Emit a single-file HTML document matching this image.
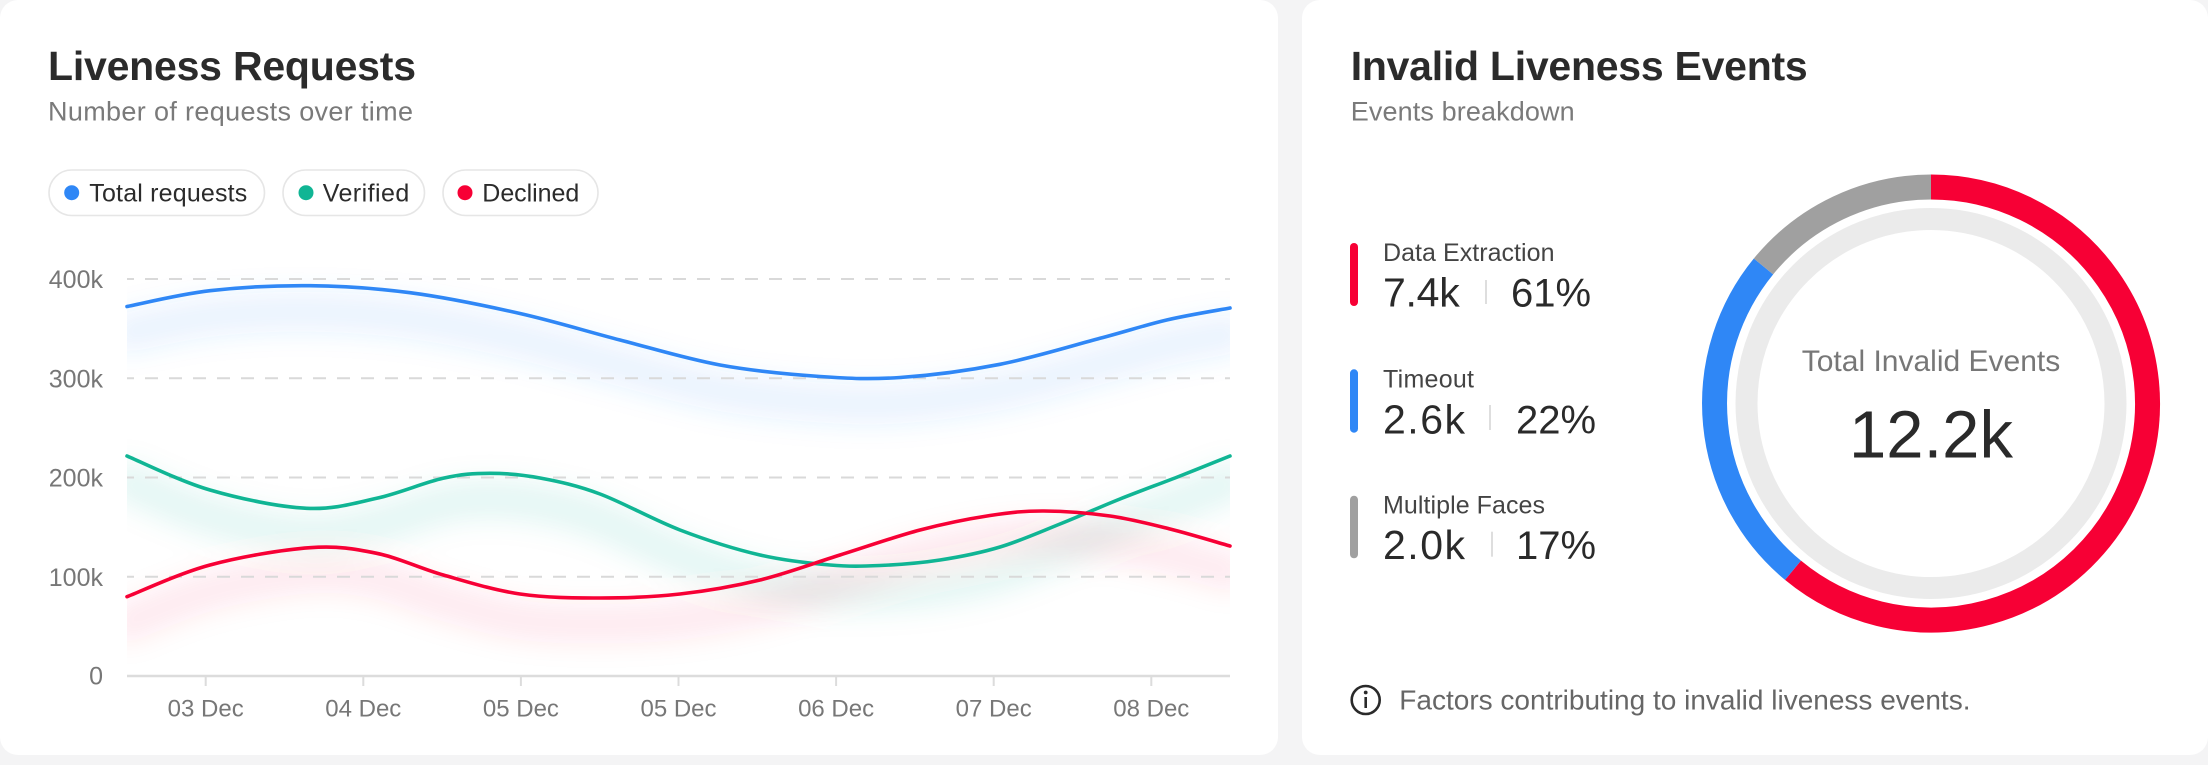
<!DOCTYPE html>
<html>
<head>
<meta charset="utf-8">
<style>
  html,body{margin:0;padding:0;background:#f4f4f5;}
  body{width:2208px;height:765px;overflow:hidden;}
  svg{display:block;font-family:"Liberation Sans", Arial, sans-serif;}
</style>
</head>
<body>
<svg width="2208" height="765" viewBox="0 0 2208 765" xmlns="http://www.w3.org/2000/svg">
  <defs>
    <clipPath id="plot"><rect x="127" y="250" width="1103" height="426"/></clipPath>
    <filter id="glow" x="-10%" y="-50%" width="120%" height="200%">
      <feGaussianBlur stdDeviation="13"/>
    </filter>
  </defs>

  <rect x="0" y="0" width="2208" height="765" fill="#f4f4f5"/>
  <!-- cards -->
  <rect x="0" y="0" width="1278" height="755" rx="18" fill="#ffffff"/>
  <rect x="1302" y="0" width="906" height="755" rx="18" fill="#ffffff"/>

  <!-- LEFT CARD header -->
  <text x="48" y="80" font-size="41" font-weight="bold" fill="#2b2b2b" textLength="368">Liveness Requests</text>
  <text x="48" y="120.5" font-size="27" fill="#7a7a7a" textLength="365">Number of requests over time</text>

  <!-- legend pills -->
  <rect x="49" y="170" width="215.5" height="45.5" rx="22.75" fill="#fff" stroke="#e6e6e6" stroke-width="1.6"/>
  <circle cx="71.7" cy="192.7" r="7.5" fill="#2f87f6"/>
  <text x="89.3" y="201.7" font-size="25" fill="#2b2b2b" textLength="158">Total requests</text>

  <rect x="283" y="170" width="141.5" height="45.5" rx="22.75" fill="#fff" stroke="#e6e6e6" stroke-width="1.6"/>
  <circle cx="306" cy="192.7" r="7.5" fill="#10b594"/>
  <text x="322.7" y="201.7" font-size="25" fill="#2b2b2b" textLength="86.6">Verified</text>

  <rect x="443" y="170" width="155" height="45.5" rx="22.75" fill="#fff" stroke="#e6e6e6" stroke-width="1.6"/>
  <circle cx="465" cy="192.7" r="7.5" fill="#f70035"/>
  <text x="482.3" y="201.7" font-size="25" fill="#2b2b2b" textLength="97">Declined</text>

  <!-- glows -->
  <g clip-path="url(#plot)">
    <g filter="url(#glow)" transform="translate(0,26)" fill="none" stroke-linecap="round">
      <path stroke="#2f87f6" stroke-opacity="0.10" stroke-width="40" d="M127,306.5 C140.8,303.9 179.5,294.2 210,290.7 S276.7,285.4 310,285.7 S375,288.1 410,292.7 S485,305.6 520,313.5 S586.7,331.4 620,340 S686.7,358.9 720,365 S790,374.4 820,376.5 S870,379.5 900,377.5 S966.7,370.8 1000,364.3 S1072.2,345.7 1100,338.3 S1145,325.1 1166.7,320 S1219.5,310 1230,308"/>
      <path stroke="#10b594" stroke-opacity="0.10" stroke-width="40" d="M127,456 C140.8,461.7 180.1,481.3 210,490 S278.9,507 306.7,508.3 S354,503.3 376.7,498.3 S424.1,482.5 443,478.3 S473.8,473.3 490,473.3 S521.7,474.6 540,478 S576.7,485.3 600,494 S653.3,519.8 680,530 S735,549.2 760,555 S810,563.3 830,565 S861.7,566.3 880,565.5 S920,563.1 940,560 S980,553 1000,547 S1040,532 1060,524 S1100,507 1120,499 S1161.7,483.2 1180,476 S1221.7,459.3 1230,456"/>
      <path stroke="#f70035" stroke-opacity="0.08" stroke-width="40" d="M127,596.7 C140.8,591.4 179.5,573.2 210,565 S282.2,549.7 310,547.7 S354.5,548.8 376.7,553.3 S419.4,568.2 443.3,575 S493.9,590.2 520,594 S573.3,598 600,598 S653.3,597 680,594 S733.3,586.5 760,580 S813.3,563.3 840,555 S895,536.6 920,530 S969.3,518.7 990,515.5 S1024,510.9 1044,511 S1089,513 1110,516 S1150,524 1170,529 S1220,543.2 1230,546"/>
    </g>
  </g>

  <!-- gridlines -->
  <g stroke="#d9d9d9" stroke-width="2" stroke-dasharray="13 11" stroke-dashoffset="6">
    <line x1="127" y1="279" x2="1230" y2="279"/>
    <line x1="127" y1="378.25" x2="1230" y2="378.25"/>
    <line x1="127" y1="477.5" x2="1230" y2="477.5"/>
    <line x1="127" y1="576.75" x2="1230" y2="576.75"/>
  </g>
  <!-- axis -->
  <line x1="127" y1="676" x2="1230" y2="676" stroke="#dcdcdc" stroke-width="2.5"/>
  <g stroke="#dcdcdc" stroke-width="2">
    <line x1="205.7" y1="676" x2="205.7" y2="686"/>
    <line x1="363.3" y1="676" x2="363.3" y2="686"/>
    <line x1="520.9" y1="676" x2="520.9" y2="686"/>
    <line x1="678.5" y1="676" x2="678.5" y2="686"/>
    <line x1="836.1" y1="676" x2="836.1" y2="686"/>
    <line x1="993.7" y1="676" x2="993.7" y2="686"/>
    <line x1="1151.3" y1="676" x2="1151.3" y2="686"/>
  </g>

  <!-- y labels -->
  <g font-size="25" fill="#777" text-anchor="end">
    <text x="103" y="288">400k</text>
    <text x="103" y="387.25">300k</text>
    <text x="103" y="486.5">200k</text>
    <text x="103" y="585.75">100k</text>
    <text x="103" y="684.5">0</text>
  </g>
  <!-- x labels -->
  <g font-size="24" fill="#777" text-anchor="middle">
    <text x="205.7" y="716.7">03 Dec</text>
    <text x="363.3" y="716.7">04 Dec</text>
    <text x="520.9" y="716.7">05 Dec</text>
    <text x="678.5" y="716.7">05 Dec</text>
    <text x="836.1" y="716.7">06 Dec</text>
    <text x="993.7" y="716.7">07 Dec</text>
    <text x="1151.3" y="716.7">08 Dec</text>
  </g>

  <!-- series lines -->
  <g fill="none" stroke-width="3.6" stroke-linecap="round" stroke-linejoin="round">
    <path stroke="#2f87f6" d="M127,306.5 C140.8,303.9 179.5,294.2 210,290.7 S276.7,285.4 310,285.7 S375,288.1 410,292.7 S485,305.6 520,313.5 S586.7,331.4 620,340 S686.7,358.9 720,365 S790,374.4 820,376.5 S870,379.5 900,377.5 S966.7,370.8 1000,364.3 S1072.2,345.7 1100,338.3 S1145,325.1 1166.7,320 S1219.5,310 1230,308"/>
    <path stroke="#10b594" d="M127,456 C140.8,461.7 180.1,481.3 210,490 S278.9,507 306.7,508.3 S354,503.3 376.7,498.3 S424.1,482.5 443,478.3 S473.8,473.3 490,473.3 S521.7,474.6 540,478 S576.7,485.3 600,494 S653.3,519.8 680,530 S735,549.2 760,555 S810,563.3 830,565 S861.7,566.3 880,565.5 S920,563.1 940,560 S980,553 1000,547 S1040,532 1060,524 S1100,507 1120,499 S1161.7,483.2 1180,476 S1221.7,459.3 1230,456"/>
    <path stroke="#f70035" d="M127,596.7 C140.8,591.4 179.5,573.2 210,565 S282.2,549.7 310,547.7 S354.5,548.8 376.7,553.3 S419.4,568.2 443.3,575 S493.9,590.2 520,594 S573.3,598 600,598 S653.3,597 680,594 S733.3,586.5 760,580 S813.3,563.3 840,555 S895,536.6 920,530 S969.3,518.7 990,515.5 S1024,510.9 1044,511 S1089,513 1110,516 S1150,524 1170,529 S1220,543.2 1230,546"/>
  </g>

  <!-- RIGHT CARD -->
  <text x="1350.7" y="80" font-size="41" font-weight="bold" fill="#2b2b2b" textLength="457">Invalid Liveness Events</text>
  <text x="1350.7" y="120.7" font-size="27" fill="#7a7a7a" textLength="224">Events breakdown</text>

  <!-- breakdown list -->
  <rect x="1350" y="243" width="8" height="63" rx="4" fill="#f70035"/>
  <text x="1383" y="261" font-size="25" fill="#444" textLength="171.5">Data Extraction</text>
  <text x="1383" y="306.7" font-size="41" fill="#2a2a2a" textLength="76.7">7.4k</text>
  <line x1="1486" y1="280" x2="1486" y2="304" stroke="#dedede" stroke-width="2"/>
  <text x="1511" y="306.7" font-size="40" fill="#2a2a2a">61%</text>

  <rect x="1350" y="369.3" width="8" height="63.4" rx="4" fill="#2f87f6"/>
  <text x="1383" y="387.7" font-size="25" fill="#444" textLength="91">Timeout</text>
  <text x="1383" y="433.3" font-size="41" fill="#2a2a2a" textLength="82">2.6k</text>
  <line x1="1490" y1="405" x2="1490" y2="430" stroke="#dedede" stroke-width="2"/>
  <text x="1516" y="433.3" font-size="40" fill="#2a2a2a">22%</text>

  <rect x="1350" y="495.7" width="8" height="62.6" rx="4" fill="#a0a0a0"/>
  <text x="1383" y="513.3" font-size="25" fill="#444" textLength="162">Multiple Faces</text>
  <text x="1383" y="559" font-size="41" fill="#2a2a2a" textLength="82">2.0k</text>
  <line x1="1492" y1="531.7" x2="1492" y2="556.7" stroke="#dedede" stroke-width="2"/>
  <text x="1516" y="559" font-size="40" fill="#2a2a2a">17%</text>

  <!-- donut -->
  <circle cx="1931" cy="403.5" r="184.5" fill="none" stroke="#ebebeb" stroke-width="22"/>
  <g fill="none" stroke-width="25">
    <path stroke="#f70035" d="M1931,187 A216.5,216.5 0 1 1 1793.0,570.3"/>
    <path stroke="#2f87f6" d="M1793.0,570.3 A216.5,216.5 0 0 1 1763.5,266.4"/>
    <path stroke="#a0a0a0" d="M1763.5,266.4 A216.5,216.5 0 0 1 1931,187"/>
  </g>
  <text x="1931" y="371" font-size="30" fill="#777" text-anchor="middle">Total Invalid Events</text>
  <text x="1931" y="457.7" font-size="67" fill="#2a2a2a" text-anchor="middle">12.2k</text>

  <!-- footer -->
  <circle cx="1365.7" cy="700" r="14" fill="none" stroke="#2a2a2a" stroke-width="2.6"/>
  <circle cx="1365.7" cy="692.5" r="1.9" fill="#2a2a2a"/>
  <line x1="1365.7" y1="697" x2="1365.7" y2="708" stroke="#2a2a2a" stroke-width="2.6"/>
  <text x="1399.3" y="709.3" font-size="28" fill="#666">Factors contributing to invalid liveness events.</text>
</svg>
</body>
</html>
